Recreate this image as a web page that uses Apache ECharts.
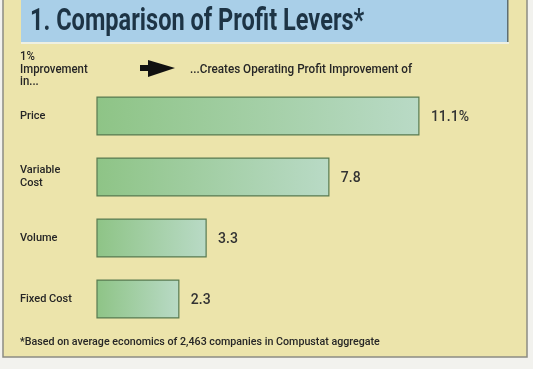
<!DOCTYPE html>
<html>
<head>
<meta charset="utf-8">
<script src="https://cdn.jsdelivr.net/npm/echarts@6/dist/echarts.min.js"></script>
<style>html,body{margin:0;padding:0;background:#f2f2ee;}#c{width:533px;height:369px;}</style>
</head>
<body>
<div id="c"></div>
<script>
// ---- data ----
const categories = ['Price', 'Variable\nCost', 'Volume', 'Fixed Cost'];
const values = [11.1, 7.8, 3.3, 2.3];
const valueLabels = ['11.1%', '7.8', '3.3', '2.3'];
const titleText = '1. Comparison of Profit Levers*';
const headerLeft = '1%\nImprovement\nin...';
const headerRight = '...Creates Operating Profit Improvement of';
const footnote = '*Based on average economics of 2,463 companies in Compustat aggregate';

const FONT = "Roboto, 'DejaVu Sans Condensed', sans-serif";
const X_MIN = -0.7, X_MAX = 14;

const chart = echarts.init(document.getElementById('c'), null, {renderer: 'canvas'});

function renderItem(params, api) {
  const i = api.value(0);
  const v = api.value(1);
  const start = api.coord([X_MIN, i]);
  const end = api.coord([v, i]);
  const h = api.size([0, 1])[1] * 0.62;
  return {
    type: 'group',
    children: [
      {
        type: 'rect',
        shape: {x: start[0], y: end[1] - h / 2, width: end[0] - start[0], height: h},
        style: {
          fill: {type: 'linear', x: 0, y: 0, x2: 1, y2: 0,
                 colorStops: [{offset: 0, color: '#8ec486'}, {offset: 1, color: '#b9dac6'}]},
          stroke: '#587a50', lineWidth: 1.2
        }
      },
      {
        type: 'text',
        x: end[0] + 12, y: end[1] + 1, scaleX: 1,
        style: {
          text: valueLabels[i], x: 0, y: 0,
          verticalAlign: 'middle', align: 'left',
          font: '500 14px ' + FONT, fill: '#333333'
        }
      }
    ]
  };
}

chart.setOption({
  backgroundColor: '#f2f2ee',
  animation: false,
  grid: {left: 97, right: 35, top: 85.5, height: 244, containLabel: false},
  xAxis: {type: 'value', min: X_MIN, max: X_MAX, show: false},
  yAxis: {
    type: 'category', data: categories, inverse: true,
    axisLine: {show: false}, axisTick: {show: false}, splitLine: {show: false},
    axisLabel: {align: 'left', margin: 77, fontFamily: FONT, fontSize: 11, fontWeight: 500,
                color: '#262626', lineHeight: 13}
  },
  graphic: [
    {type: 'rect', z: -10, shape: {x: 3, y: -2, width: 524, height: 359},
     style: {fill: '#ece4ab', stroke: '#8c8c84', lineWidth: 1.5}},
    {type: 'rect', z: -9, shape: {x: 21, y: 0, width: 487, height: 42},
     style: {fill: '#a9cfe8'}},
    {type: 'rect', z: -9, shape: {x: 21, y: 42, width: 488, height: 2},
     style: {fill: '#eef0e2'}},
    {type: 'rect', z: -9, shape: {x: 507, y: 0, width: 1.5, height: 42},
     style: {fill: '#5f6e72'}},
    {type: 'text', z: 5, x: 30, y: 22, scaleX: 0.76,
     style: {text: titleText, x: 0, y: 0, verticalAlign: 'middle',
             font: 'bold 31px ' + FONT, fill: '#1d3445'}},
    {type: 'text', z: 5, x: 20, y: 51, scaleX: 0.95,
     style: {text: headerLeft, x: 0, y: 0, verticalAlign: 'top', lineHeight: 12.5,
             font: '500 12px ' + FONT, fill: '#262626'}},
    {type: 'polygon', z: 5,
     shape: {points: [[140, 65], [148, 65], [148, 60], [175, 68], [148, 77], [148, 71], [140, 71]]},
     style: {fill: '#111111'}},
    {type: 'text', z: 5, x: 190, y: 70, scaleX: 0.975,
     style: {text: headerRight, x: 0, y: 0, verticalAlign: 'middle',
             font: '500 12px ' + FONT, fill: '#262626'}},
    {type: 'text', z: 5, x: 20, y: 342, scaleX: 0.93,
     style: {text: footnote, x: 0, y: 0, verticalAlign: 'middle',
             font: '500 11.5px ' + FONT, fill: '#262626'}}
  ],
  series: [{
    type: 'custom',
    renderItem: renderItem,
    encode: {x: 1, y: 0},
    data: values.map((v, i) => [i, v])
  }]
});
</script>
</body>
</html>
